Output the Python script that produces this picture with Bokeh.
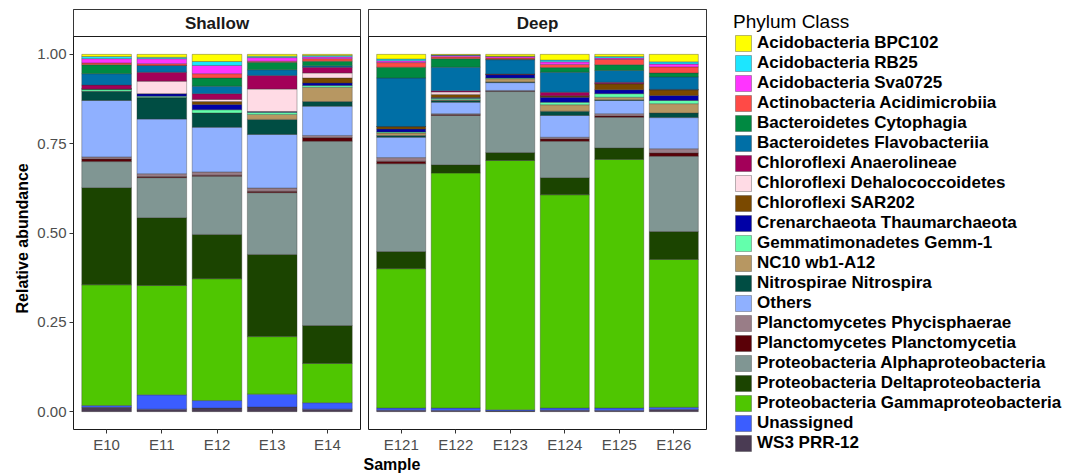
from bokeh.plotting import figure
from bokeh.models import (FactorRange, Range1d, FixedTicker, NumeralTickFormatter,
                          BoxAnnotation, Label, Legend, LegendItem, ColumnDataSource, Title)
from bokeh.layouts import row
from bokeh.embed import file_html
from bokeh.resources import INLINE

# ---------------- data ----------------
shallow_samples = ["E10", "E11", "E12", "E13", "E14"]
deep_samples = ["E121", "E122", "E123", "E124", "E125", "E126"]

# legend order (top of legend -> bottom); stacking goes bottom = last
classes = [
    "Acidobacteria BPC102", "Acidobacteria RB25", "Acidobacteria Sva0725",
    "Actinobacteria Acidimicrobiia", "Bacteroidetes Cytophagia", "Bacteroidetes Flavobacteriia",
    "Chloroflexi Anaerolineae", "Chloroflexi Dehalococcoidetes", "Chloroflexi SAR202",
    "Crenarchaeota Thaumarchaeota", "Gemmatimonadetes Gemm-1", "NC10 wb1-A12",
    "Nitrospirae Nitrospira", "Others", "Planctomycetes Phycisphaerae",
    "Planctomycetes Planctomycetia", "Proteobacteria Alphaproteobacteria",
    "Proteobacteria Deltaproteobacteria", "Proteobacteria Gammaproteobacteria",
    "Unassigned", "WS3 PRR-12",
]
colors = [
    "#FFFF00", "#1CE6FF", "#FF34FF", "#FF4A46", "#008941", "#006FA6", "#A30059",
    "#FFDBE5", "#7A4900", "#0000A6", "#63FFAC", "#B79762", "#004D43", "#8FB0FF",
    "#997D87", "#5A0007", "#809693", "#1B4400", "#4FC601", "#3B5DFF", "#4A3B53",
]

# values per class, samples in order E10 E11 E12 E13 E14 | E121 E122 E123 E124 E125 E126
acido_bpc102 = [0.006, 0.008, 0.020, 0.005, 0.003, 0.013, 0.002, 0.005, 0.016, 0.006, 0.021]
acido_rb25   = [0.006, 0.004, 0.011, 0.004, 0.004, 0.005, 0.001, 0.001, 0.005, 0.004, 0.006]
acido_sva    = [0.012, 0.014, 0.023, 0.010, 0.005, 0.005, 0.004, 0.004, 0.007, 0.004, 0.008]
actino       = [0.005, 0.005, 0.012, 0.003, 0.007, 0.013, 0.005, 0.004, 0.009, 0.015, 0.017]
cytophagia   = [0.025, 0.000, 0.023, 0.021, 0.013, 0.030, 0.024, 0.001, 0.013, 0.016, 0.011]
flavo        = [0.032, 0.019, 0.021, 0.016, 0.004, 0.136, 0.066, 0.040, 0.056, 0.033, 0.035]
anaerolineae = [0.011, 0.025, 0.016, 0.038, 0.016, 0.000, 0.003, 0.001, 0.010, 0.004, 0.001]
dehalo       = [0.000, 0.035, 0.006, 0.063, 0.014, 0.000, 0.007, 0.000, 0.000, 0.000, 0.000]
sar202       = [0.000, 0.000, 0.008, 0.000, 0.014, 0.007, 0.009, 0.001, 0.004, 0.017, 0.016]
thaum        = [0.000, 0.007, 0.015, 0.002, 0.007, 0.008, 0.002, 0.009, 0.014, 0.011, 0.014]
gemm1        = [0.006, 0.004, 0.009, 0.006, 0.005, 0.003, 0.004, 0.002, 0.007, 0.010, 0.009]
nc10         = [0.000, 0.000, 0.000, 0.014, 0.040, 0.007, 0.002, 0.009, 0.018, 0.007, 0.026]
nitrospira   = [0.026, 0.060, 0.040, 0.042, 0.013, 0.005, 0.005, 0.002, 0.012, 0.002, 0.013]
others       = [0.158, 0.153, 0.125, 0.150, 0.082, 0.057, 0.032, 0.022, 0.061, 0.037, 0.087]
phycis       = [0.006, 0.008, 0.009, 0.009, 0.006, 0.010, 0.002, 0.002, 0.005, 0.006, 0.012]
plancto      = [0.007, 0.003, 0.003, 0.004, 0.010, 0.007, 0.003, 0.001, 0.006, 0.004, 0.009]
alpha        = [0.073, 0.112, 0.163, 0.173, 0.516, 0.246, 0.138, 0.171, 0.102, 0.086, 0.211]
delta        = [0.272, 0.190, 0.124, 0.230, 0.106, 0.048, 0.023, 0.022, 0.048, 0.032, 0.078]
gamma        = [0.338, 0.306, 0.341, 0.161, 0.110, 0.390, 0.658, 0.698, 0.597, 0.696, 0.414]
unassigned   = [0.005, 0.040, 0.021, 0.036, 0.018, 0.006, 0.007, 0.003, 0.006, 0.007, 0.006]
ws3          = [0.012, 0.007, 0.010, 0.013, 0.007, 0.004, 0.003, 0.002, 0.004, 0.003, 0.006]

series = [acido_bpc102, acido_rb25, acido_sva, actino, cytophagia, flavo, anaerolineae,
          dehalo, sar202, thaum, gemm1, nc10, nitrospira, others, phycis, plancto,
          alpha, delta, gamma, unassigned, ws3]

y_ticks = [0.0, 0.25, 0.5, 0.75, 1.0]

# ---------------- styling ----------------
FONT = "Liberation Sans"
STRIP_TOP = 1.1256
stack_names = classes[::-1]
stack_colors = colors[::-1]
all_samples = shallow_samples + deep_samples


def make_source(samples):
    data = {"sample": samples}
    idx = [all_samples.index(s) for s in samples]
    for name, vals in zip(classes, series):
        data[name] = [vals[i] for i in idx]
    return ColumnDataSource(data)


y_range = Range1d(-0.05, STRIP_TOP)


def make_panel(samples, label, frame_width, left_border, right_border, show_y):
    p = figure(x_range=FactorRange(factors=samples, range_padding=0.1,
                                   range_padding_units="absolute"),
               y_range=y_range, frame_width=frame_width, frame_height=420,
               min_border_top=9, min_border_bottom=44, min_border_left=left_border,
               min_border_right=right_border, toolbar_location=None,
               output_backend="svg", background_fill_color="white",
               border_fill_color="white")
    p.outline_line_color = "#1a1a1a"
    p.outline_line_width = 1
    p.xgrid.visible = False
    p.ygrid.visible = False
    src = make_source(samples)
    rs = p.vbar_stack(stack_names, x="sample", width=0.9, source=src,
                      fill_color=stack_colors, line_color="#333333",
                      line_width=0.5, line_alpha=0.7)
    xa = p.xaxis[0]
    xa.axis_line_color = None
    xa.major_tick_in = 0
    xa.major_tick_out = 4
    xa.major_tick_line_color = "#333333"
    xa.major_label_text_font = FONT
    xa.major_label_text_font_size = "15px"
    xa.major_label_text_color = "#4D4D4D"
    xa.major_label_standoff = 2
    ya = p.yaxis[0]
    if show_y:
        ya.ticker = FixedTicker(ticks=y_ticks)
        ya.formatter = NumeralTickFormatter(format="0.00")
        ya.axis_line_color = None
        ya.major_tick_in = 0
        ya.major_tick_out = 4
        ya.minor_tick_line_color = None
        ya.major_tick_line_color = "#333333"
        ya.major_label_text_font = FONT
        ya.major_label_text_font_size = "15px"
        ya.major_label_text_color = "#4D4D4D"
        ya.major_label_standoff = 3
    else:
        ya.visible = False
    # facet strip
    p.add_layout(BoxAnnotation(bottom=1.05, fill_color="white", fill_alpha=1.0,
                               line_color="#1a1a1a", line_width=1, line_alpha=1.0))
    p.add_layout(Label(x=len(samples) / 2, y=(1.05 + STRIP_TOP) / 2, text=label,
                       text_align="center", text_baseline="middle",
                       text_font=FONT, text_font_size="17px", text_font_style="bold",
                       text_color="#1a1a1a"))
    return p, rs


p_sh, _ = make_panel(shallow_samples, "Shallow", 287, 73, 1, True)
p_dp, renderers = make_panel(deep_samples, "Deep", 338, 7, 366, False)

# y axis title
p_sh.add_layout(Title(text="Relative abundance", align="left", offset=116,
                      standoff=8, vertical_align="bottom",
                      text_font=FONT, text_font_size="16px", text_font_style="bold",
                      text_color="black"), "left")
# x axis title (centred under both panels)
p_dp.add_layout(Title(text="Sample", align="left", offset=-5, standoff=0,
                      vertical_align="top",
                      text_font=FONT, text_font_size="16px", text_font_style="bold",
                      text_color="black"), "below")

# legend
rmap = dict(zip(stack_names, renderers))
items = [LegendItem(label=name, renderers=[rmap[name]]) for name in classes]
legend = Legend(items=items, location=(27, -24), title="Phylum Class",
                title_text_font=FONT, title_text_font_size="19px",
                title_text_font_style="normal", title_text_color="black",
                title_standoff=0,
                label_text_font=FONT, label_text_font_size="17px",
                label_text_font_style="bold", label_text_color="black",
                glyph_width=20, glyph_height=20, label_height=20, spacing=0,
                padding=0, margin=0, label_standoff=4,
                border_line_color=None, background_fill_alpha=0)
p_dp.add_layout(legend, "right")

layout = row(p_sh, p_dp)
open("out.html", "w").write(file_html(layout, INLINE))
